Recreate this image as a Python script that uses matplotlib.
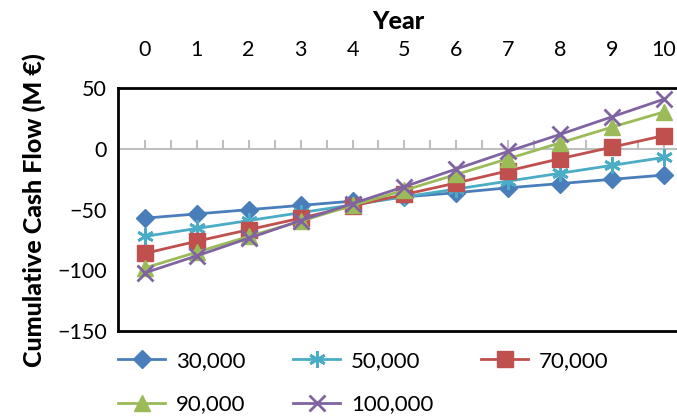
import numpy as np
import matplotlib.pyplot as plt

years = list(range(11))
labels = ['30,000', '50,000', '70,000', '90,000', '100,000']
s30 = [-57, -53.5, -50, -46.5, -43, -39.5, -36, -32, -28.5, -25, -21.5]
s50 = [-72, -65.5, -59, -52.5, -46, -39.5, -33, -26.5, -20, -13.5, -7]
s70 = [-86, -76, -66.5, -57, -47, -37.5, -28, -18, -8, 1.5, 11]
s90 = [-98, -85, -72, -59.5, -46.5, -34, -21, -8, 5, 18, 30.5]
s100 = [-102, -88, -73.5, -59, -45, -31, -16.5, -2, 12, 26.5, 41]

series = [s30, s50, s70, s90, s100]
colors = ['#4A7EBB', '#4BACC6', '#C0504D', '#9BBB59', '#8064A2']
markers = ['D', (6, 2, 0), 's', '^', 'x']
msizes = [9, 12, 11, 11, 11]

plt.rcParams['font.family'] = ['Lato', 'DejaVu Sans']

fig = plt.figure(figsize=(6.77, 4.16), dpi=100)
ax = fig.add_axes([0.174, 0.204, 0.83, 0.584])

# zero line with ticks every half year
ax.axhline(0, color='#BFBFBF', lw=1.5, zorder=1)
for t in np.arange(0, 10.6, 0.5):
    ax.plot([t, t], [0, 6.5], color='#BFBFBF', lw=1.5, zorder=1)

handles = []
for ys, c, m, ms, lab in zip(series, colors, markers, msizes, labels):
    h, = ax.plot(years, ys, color=c, marker=m, markersize=ms, lw=2, label=lab,
                 markeredgewidth=2 if m in ('x', (6, 2, 0)) else 1,
                 markeredgecolor=c, zorder=3)
    handles.append(h)

ax.set_xlim(-0.52, 10.3)
ax.set_ylim(-150, 50)
ax.set_yticks([-150, -100, -50, 0, 50])
ax.set_xticks(years)
ax.xaxis.tick_top()
ax.xaxis.set_label_position('top')
ax.tick_params(axis='x', length=0, labelsize=15.5, pad=20)
ax.tick_params(axis='y', length=0, labelsize=15.5, pad=8)
ax.set_xlabel('Year', fontsize=18, fontweight='black', labelpad=8)
ax.set_ylabel('Cumulative Cash Flow (M €)', fontsize=18, fontweight='black', labelpad=8)
for s in ax.spines.values():
    s.set_linewidth(2)
    s.set_color('black')
ax.spines['right'].set_visible(False)

order = [0, 3, 1, 4, 2]
ax.legend([handles[i] for i in order], [labels[i] for i in order],
          loc='upper left', bbox_to_anchor=(-0.015, -0.045), ncol=3, frameon=False,
          fontsize=16, columnspacing=2.15, handlelength=2.1, labelspacing=1.05,
          handletextpad=0.5, borderaxespad=0)

fig.savefig('out.png', dpi=100)
